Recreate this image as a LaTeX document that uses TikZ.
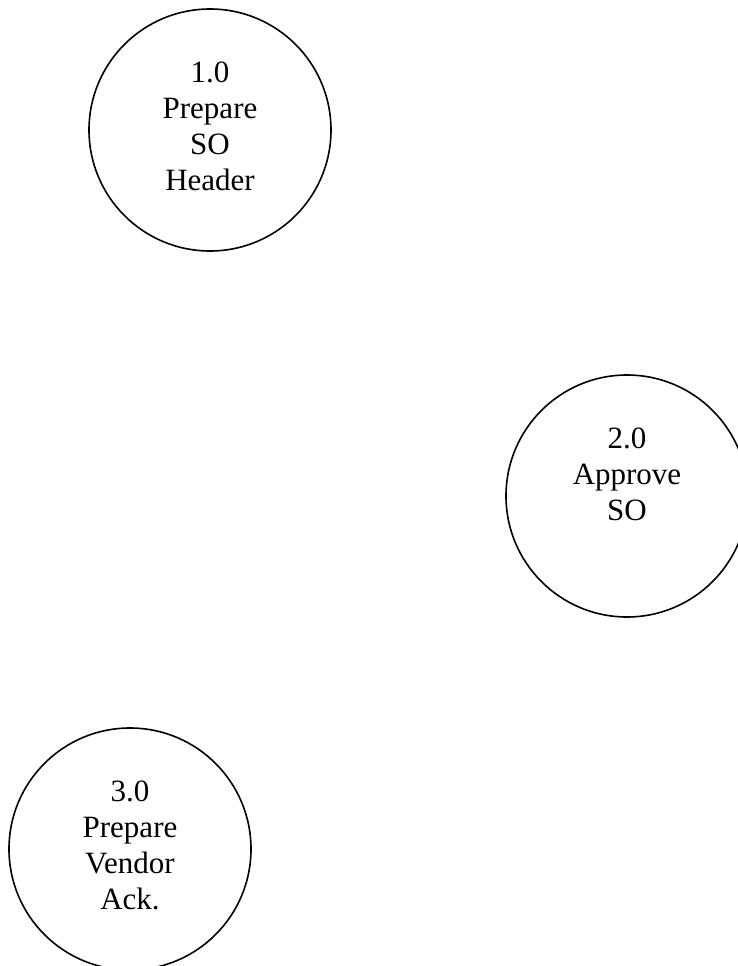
\documentclass[tikz,border=0pt]{standalone}
\usepackage{fontspec}
\setmainfont{Liberation Serif}
\begin{document}
\begin{tikzpicture}[x=1pt,y=-1pt,
  process/.style={draw=black,line width=1.6pt,circle,inner sep=0pt,minimum size=242pt},
  proclabel/.style={anchor=north,inner sep=0pt,align=center,
    font=\fontsize{31}{36}\selectfont}]
\useasboundingbox (0,0) rectangle (738,966);
% process bubbles
\node[process] (p1) at (210,130) {};
\node[process] (p2) at (627,496) {};
\node[process] (p3) at (130,849) {};
% labels, set from the top of each bubble's text block
\node[proclabel] (t1) at (210,62) {1.0\\Prepare\\SO\\Header};
\node[proclabel] (t2) at (627,428) {2.0\\Approve\\SO};
\node[proclabel] (t3) at (130,781) {3.0\\Prepare\\Vendor\\Ack.};
\end{tikzpicture}
\end{document}
